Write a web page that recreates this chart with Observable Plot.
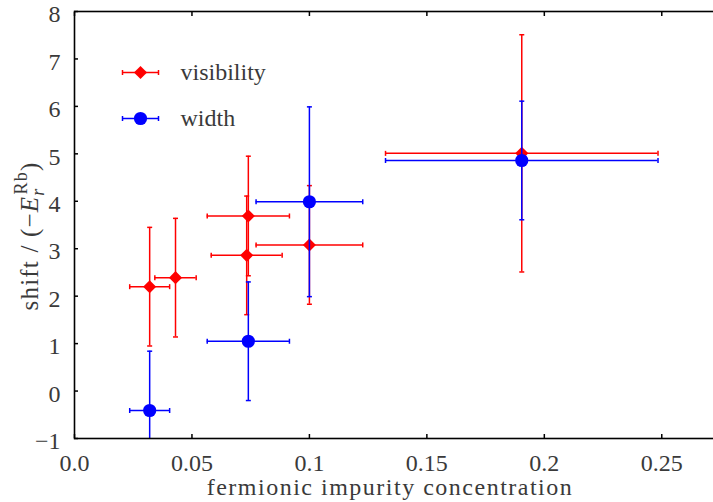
<!DOCTYPE html>
<html><head><meta charset="utf-8">
<script src="https://cdn.jsdelivr.net/npm/d3@7"></script>
<script src="https://cdn.jsdelivr.net/npm/@observablehq/plot@0.6"></script>
<style>
html,body{margin:0;padding:0;background:#fff;}
#chart{width:713px;height:502px;overflow:hidden;position:relative;}
#chart svg{display:block;max-width:none !important;}
</style></head><body><div id="chart"></div>
<script>
// ---- data ----
const seriesNames = ["visibility", "width"];
const visX    = [0.032, 0.043, 0.074, 0.0733, 0.1, 0.1904];
const visY    = [2.20, 2.39, 3.69, 2.86, 3.08, 5.01];
const visXErr = [0.0085, 0.0088, 0.0175, 0.0151, 0.0227, 0.058];
const visYErr = [1.25, 1.25, 1.26, 1.25, 1.25, 2.5];
const widX    = [0.032, 0.074, 0.1, 0.1904];
const widY    = [-0.41, 1.05, 3.99, 4.86];
const widXErr = [0.0085, 0.0175, 0.0227, 0.058];
const widYErr = [1.25, 1.25, 2.0, 1.25];
const xTicks = [0, 0.05, 0.1, 0.15, 0.2, 0.25];
const xTickLabels = ["0.0", "0.05", "0.1", "0.15", "0.2", "0.25"];
const yTicks = [-1, 0, 1, 2, 3, 4, 5, 6, 7, 8];
const yTickLabels = ["\u22121", "0", "1", "2", "3", "4", "5", "6", "7", "8"];
const xLabel = "fermionic impurity concentration";

const vis = visX.map((x, i) => ({x, y: visY[i], xe: visXErr[i], ye: visYErr[i]}));
const wid = widX.map((x, i) => ({x, y: widY[i], xe: widXErr[i], ye: widYErr[i]}));

const FONT = "'Liberation Serif', 'DejaVu Serif', serif";
const TXT = "#3a3a3a";
const FS = 24;

const capV = {draw(ctx) { ctx.moveTo(0, -2.5); ctx.lineTo(0, 2.5); }};
const capH = {draw(ctx) { ctx.moveTo(-2.5, 0); ctx.lineTo(2.5, 0); }};
const legBar = {draw(ctx) {
  ctx.moveTo(-18, 0); ctx.lineTo(18, 0);
  ctx.moveTo(-18, -2.5); ctx.lineTo(-18, 2.5);
  ctx.moveTo(18, -2.5); ctx.lineTo(18, 2.5);
}};

function series(data, color, symbol, r) {
  const sw = 1.5;
  return [
    Plot.ruleY(data, {y: "y", x1: d => d.x - d.xe, x2: d => d.x + d.xe, stroke: color, strokeWidth: sw, clip: true}),
    Plot.ruleX(data, {x: "x", y1: d => d.y - d.ye, y2: d => d.y + d.ye, stroke: color, strokeWidth: sw, clip: true}),
    Plot.dot(data, {x: d => d.x - d.xe, y: "y", symbol: capV, stroke: color, fill: "none", strokeWidth: sw, clip: true}),
    Plot.dot(data, {x: d => d.x + d.xe, y: "y", symbol: capV, stroke: color, fill: "none", strokeWidth: sw, clip: true}),
    Plot.dot(data, {x: "x", y: d => d.y - d.ye, symbol: capH, stroke: color, fill: "none", strokeWidth: sw, clip: true}),
    Plot.dot(data, {x: "x", y: d => d.y + d.ye, symbol: capH, stroke: color, fill: "none", strokeWidth: sw, clip: true}),
    Plot.dot(data, {x: "x", y: "y", symbol, r, fill: color, stroke: "none", clip: true})
  ];
}

function legend(i, color, symbol, r) {
  const dy = 61 + i * 46;
  return [
    Plot.dot([0], {frameAnchor: "top-left", dx: 66, dy, symbol: legBar, stroke: color, fill: "none", strokeWidth: 1.5}),
    Plot.dot([0], {frameAnchor: "top-left", dx: 66, dy, symbol, r, fill: color, stroke: "none"}),
    Plot.text([seriesNames[i]], {text: d => d, frameAnchor: "top-left", dx: 106, dy, textAnchor: "start",
      lineAnchor: "middle", fontSize: FS, fontFamily: FONT, fill: TXT, letterSpacing: "1.1px"})
  ];
}

const W = 720, H = 502;
const plot = Plot.plot({
  width: W, height: H,
  marginLeft: 74, marginRight: 0, marginTop: 11, marginBottom: 64,
  x: {domain: [0, 0.275]},
  y: {domain: [-1, 8]},
  style: {fontFamily: FONT, fontSize: FS + "px", color: TXT, background: "white"},
  marks: [
    Plot.axisX({anchor: "bottom", ticks: xTicks, tickSize: -4, tickPadding: 19, stroke: "black", strokeWidth: 1.5,
      tickFormat: d => xTickLabels[xTicks.indexOf(d)], label: null, fill: TXT, fontSize: FS}),
    Plot.axisX({anchor: "top", ticks: xTicks, tickSize: -4, stroke: "black", strokeWidth: 1.5,
      tickFormat: () => "", label: null}),
    Plot.axisY({anchor: "left", ticks: yTicks, tickSize: -4, stroke: "black", strokeWidth: 1.5,
      tickFormat: () => "", label: null}),
    Plot.axisY({anchor: "left", ticks: yTicks, tickSize: 0, tickPadding: 14, dy: 3, stroke: "none",
      tickFormat: d => yTickLabels[yTicks.indexOf(d)], label: null, fill: TXT, fontSize: FS}),
    ...series(vis, "#ff0000", "diamond2", 5.9),
    ...series(wid, "#0000ff", "circle", 6.6),
    ...legend(0, "#ff0000", "diamond2", 5.9),
    ...legend(1, "#0000ff", "circle", 6.6),
    Plot.frame({stroke: "black", strokeWidth: 1.6})
  ]
});
document.getElementById("chart").appendChild(plot);

// axis titles as real text
const svg = d3.select(plot);
svg.append("text")
  .attr("x", 390).attr("y", 495)
  .attr("text-anchor", "middle")
  .attr("font-family", FONT).attr("font-size", FS).attr("fill", TXT)
  .attr("letter-spacing", "1.5px")
  .text(xLabel);

const yl = svg.append("text")
  .attr("transform", "translate(38,236) rotate(-90)")
  .attr("text-anchor", "middle")
  .attr("font-family", FONT).attr("font-size", FS + 1).attr("fill", TXT)
  .attr("letter-spacing", "1.2px");
yl.append("tspan").text("shift / (\u2212");
yl.append("tspan").attr("font-style", "italic").text("E");
yl.append("tspan").attr("font-style", "italic").attr("font-size", 18).attr("dy", 6).text("r");
yl.append("tspan").attr("font-size", 18).attr("dx", -7).attr("dy", -17).text("Rb");
yl.append("tspan").attr("dy", 11).text(")");
</script></body></html>
